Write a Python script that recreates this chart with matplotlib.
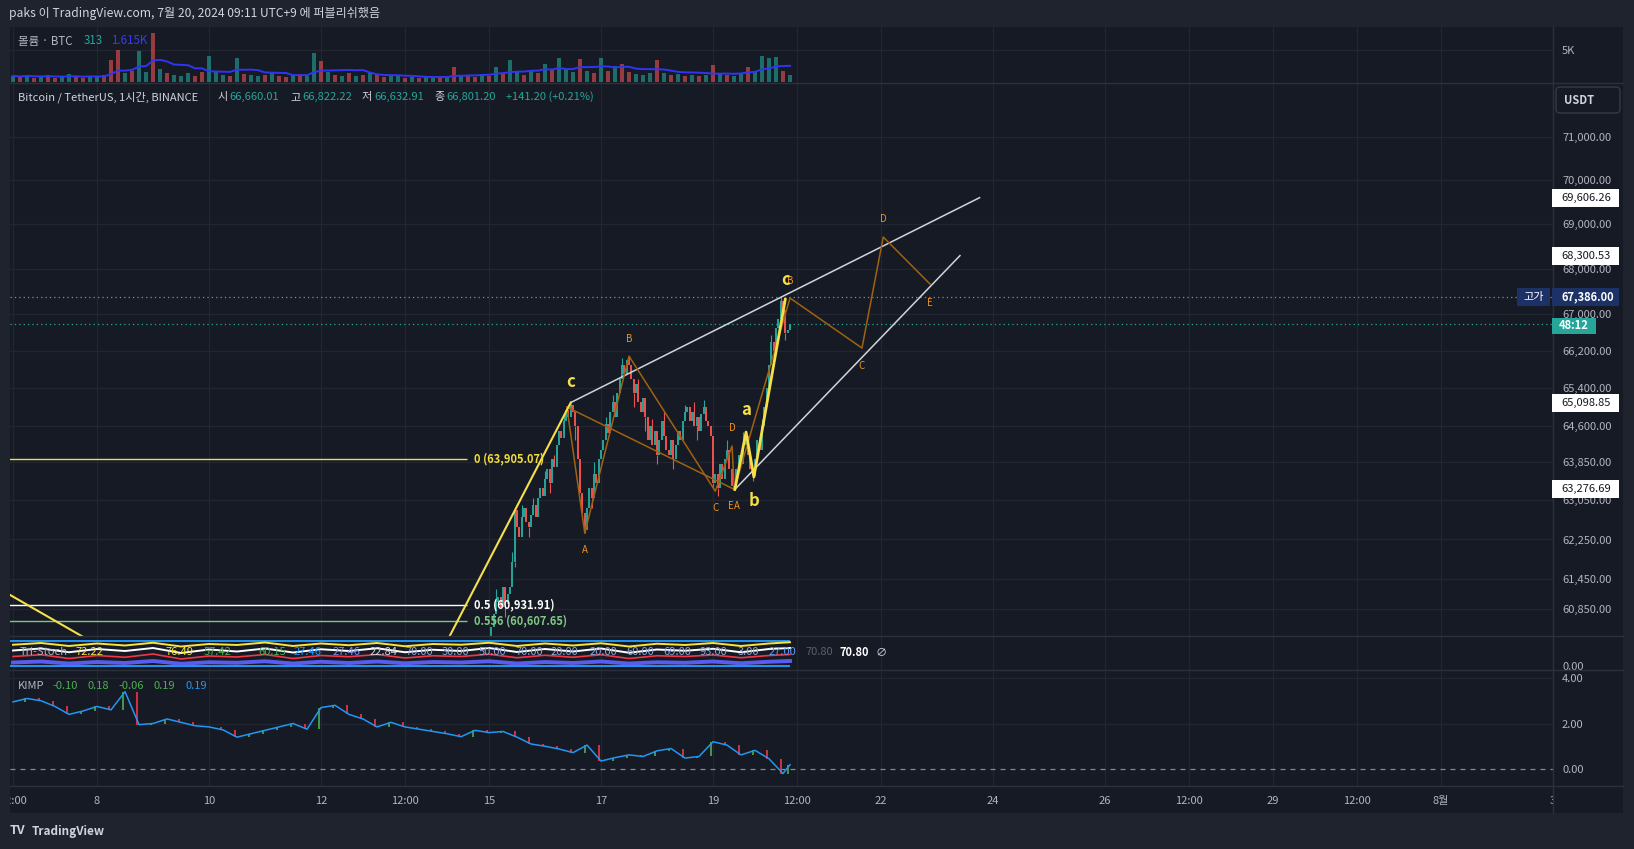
import matplotlib
matplotlib.use("Agg")
import matplotlib.pyplot as plt
import matplotlib.patches as mpatches
import matplotlib.lines as mlines
import matplotlib.transforms as mtransforms
from matplotlib.ticker import FixedLocator, NullLocator, NullFormatter
import numpy as np
import pandas as pd

plt.rcParams['font.family'] = ['Noto Sans CJK KR', 'DejaVu Sans']

# ---------------- data (x = day of July 2024, KST) ----------------
title = "paks 이 TradingView.com, 7월 20, 2024 09:11 UTC+9 에 퍼블리쉬했음"
symbol = "Bitcoin / TetherUS, 1시간, BINANCE"
ohlc_names = ["시", "고", "저", "종"]
ohlc_values = ["66,660.01", "66,822.22", "66,632.91", "66,801.20"]
change_text = "+141.20 (+0.21%)"

# hourly closes from Jul 15 00:00
candle_start = 15.0
first_open = 60100.0
closes = [60300, 60500, 60750, 61000, 61100, 60900,
          61300, 60950, 61150, 61300, 61800, 62850,
          62500, 62300, 62700,
          62900, 62600, 62500, 62750, 62950, 62700,
          63100, 63300, 63150, 63500,
          63700, 63400, 63900, 63750,
          64200, 64500, 64350, 64700,
          64950, 64800, 65050,
          64900, 64600, 63900, 63200, 62800, 62450,
          62900, 63300, 63100, 63600, 63400, 63900, 64100,
          64300, 64650, 64450, 64900, 65100, 64800, 65300,
          65600, 65900, 65700, 66000, 65900,
          65600, 65300, 65500, 65100, 64900, 65200,
          64800, 64300, 64600, 64200, 64500, 64000, 64300, 64700, 64400, 64100,
          64000, 64300, 63900, 64200, 64500, 64300, 64700, 64900,
          65000, 64700, 64900, 64600, 64800, 64500, 64850, 65000, 64700, 64600, 64400,
          63400,
          63600, 63300, 63800, 63500,
          63900, 64100, 63700, 63350,
          63300,
          63700, 64000, 63800, 64200, 64400,
          64000, 63700, 63550,
          63900, 64300, 64100, 64600,
          65000, 65400, 65900, 66400, 66200, 66700, 66900,
          67300, 67100, 66600, 66660.01, 66801.20]
wick_highs = {3: 61250, 10: 62000, 14: 62950, 19: 63100, 24: 63650, 28: 64000,
              32: 64850, 35: 65098.85, 45: 63850, 50: 64800, 53: 65250, 57: 66050,
              60: 66094, 64: 65600, 70: 64750, 75: 64900, 84: 65050, 88: 65100,
              92: 65150, 102: 64300, 109: 64473, 117: 64750, 121: 66550, 125: 67386}
wick_lows = {7: 60700, 11: 61700, 17: 62300, 26: 63200, 37: 64300, 41: 62378,
             44: 62900, 62: 65000, 67: 64500, 72: 63800, 79: 63700, 89: 64300,
             96: 63300, 98: 63150, 105: 63276.69, 113: 63450, 127: 66450}

# volume, 3-hour bins from Jul 6 12:00 (thousand BTC)
vol_start = 6.5
volumes = [1.0, 0.8, 1.2, 0.7, 0.9, 1.1, 0.6, 0.8, 1.3, 0.9,
           0.7, 1.0, 0.8, 1.2, 3.5, 5.0, 1.4, 1.8, 4.8, 1.6,
           7.7, 2.0, 1.5, 1.2, 1.0, 1.4, 0.9, 1.6, 4.0, 1.8,
           1.2, 1.0, 3.7, 1.3, 1.1, 0.9, 1.2, 1.5, 1.0, 0.8,
           1.1, 1.3, 1.0, 4.5, 3.3, 1.6, 1.2, 1.0, 1.4, 0.9,
           1.2, 1.5, 1.1, 0.8, 0.9, 1.0, 0.7, 0.8, 0.6, 0.9,
           0.7, 1.0, 0.8, 2.4, 0.9, 1.1, 0.8, 1.3, 1.0, 2.4,
           1.5, 3.5, 1.6, 1.2, 1.8, 1.4, 2.8, 1.9, 3.7, 2.0,
           1.6, 3.6, 1.8, 1.5, 3.7, 1.7, 2.5, 2.8, 1.6, 1.3,
           1.2, 1.5, 3.5, 1.4, 1.1, 1.3, 1.0, 1.2, 0.9, 1.1,
           2.7, 1.4, 1.2, 1.0, 1.5, 2.3, 1.8, 4.1, 3.8, 3.9, 1.8, 1.2]
vol_dirs = ("udududduud" "duuddduduu" "duduuuddu" "u" "ududuududd" "uduudududu"
            "dudduududu" "udududdudu" "duudududuu" "ududududdu" "uududududu"
            "duduuduuuudu")

# KIMP, 6-hour samples from Jul 6 12:00, plus last bar
kimp_start = 6.5
kimp = [2.95, 3.1, 3.0, 2.75, 2.4, 2.55,
        2.75, 2.6, 3.4, 1.95, 2.0, 2.2, 2.05, 1.9,
        1.85, 1.72, 1.4, 1.55, 1.7, 1.85, 2.0, 1.75,
        2.7, 2.8, 2.4, 2.2, 1.85, 2.05, 1.85, 1.75,
        1.65, 1.55, 1.42, 1.7, 1.6, 1.65, 1.4, 1.1,
        1.0, 0.88, 0.72, 1.05, 0.35, 0.5, 0.62, 0.55,
        0.8, 0.9, 0.48, 0.55, 1.2, 1.05, 0.62, 0.82,
        0.45, -0.2]
kimp_last = 0.19
kimp_legend = [("-0.10", "#4caf50"), ("0.18", "#4caf50"), ("-0.06", "#4caf50"),
               ("0.19", "#4caf50"), ("0.19", "#2196f3")]

# Tri-Stoch, 12-hour samples from Jul 6 12:00, plus last bar
stoch_yellow = [85, 92, 80, 90, 82, 93, 78, 88, 84, 94, 80, 90, 83, 92, 79,
                88, 85, 93, 80, 90, 82, 91, 78, 89, 84, 92, 80, 90, 95]
stoch_white = [62, 70, 55, 68, 60, 72, 52, 66, 58, 70, 54, 67, 60, 71, 55,
               65, 60, 72, 56, 68, 58, 70, 53, 66, 61, 69, 55, 68, 72]
stoch_red = [38, 45, 30, 42, 35, 48, 28, 40, 36, 46, 30, 42, 37, 46, 32,
             41, 38, 47, 33, 43, 35, 45, 30, 41, 38, 44, 33, 42, 46]
stoch_blue = [14, 18, 10, 16, 12, 20, 9, 15, 13, 19, 10, 17, 12, 18, 11,
              16, 14, 19, 10, 16, 12, 18, 10, 15, 13, 18, 11, 17, 20]
stoch_legend = [("72.22", "#f7e53b"), ("76.49", "#f7e53b"), ("57.42", "#4caf50"),
                ("60.15", "#4caf50"), ("27.46", "#2196f3"), ("27.46", "#7e8cf0"),
                ("22.84", "#d1d4dc"), ("70.00", "#8fa8d8"), ("30.00", "#8fa8d8"),
                ("50.00", "#8fa8d8"), ("70.00", "#8fa8d8"), ("20.00", "#8fa8d8"),
                ("20.00", "#8fa8d8"), ("60.00", "#8fa8d8"), ("69.00", "#8fa8d8"),
                ("93.00", "#8fa8d8"), ("3.00", "#8fa8d8"), ("27.00", "#5b9cf6")]

# drawings
fib_levels = [("0", 63905.07, "#f2dd3c"), ("0.5", 60931.91, "#ffffff"), ("0.556", 60607.65, "#81c784")]
fib_span = (5.0, 14.61)
wave_days = [4.0, 12.79, 16.46]
wave_px = [62724, 57190, 65098.85]
abc_days = [19.39, 19.59, 19.73, 20.29]
abc_px = [63276.69, 64473, 63534, 67330]
tri1_days = [16.39, 16.71, 17.5, 19.04, 19.34, 19.38]
tri1_px = [65003, 62378, 66094, 63241, 64180, 63276.69]
tri2_days = [19.38, 20.375, 21.66, 22.04, 22.875]
tri2_px = [63276.69, 67360, 66268, 68717, 67669]
chan_up_days, chan_up_px = [16.46, 23.76], [65098.85, 69606.26]
chan_lo_days, chan_lo_px = [19.39, 23.41], [63276.69, 68300.53]
high_price = 67386.00
last_price = 66801.20

price_ticks = [71000, 70000, 69000, 68000, 67000, 66200, 65400, 64600,
               63850, 63050, 62250, 61450, 60850]
time_ticks = [6.5, 8, 10, 12, 13.5, 15, 17, 19, 20.5, 22, 24, 26, 27.5, 29, 30.5, 32, 34]
time_labels = ["12:00", "8", "10", "12", "12:00", "15", "17", "19", "12:00",
               "22", "24", "26", "12:00", "29", "12:00", "8월", "3"]

# ---------------- figure ----------------
W, H = 1634, 849
BG = '#161a25'
OUTER = '#1f232e'
GRID = '#222631'
SEP = '#2c303b'
TXT = '#b2b5be'
UP = '#26a69a'
DN = '#ef5350'
ORANGE_LINE = '#a0620f'
ORANGE_TXT = '#f0921e'
YELLOW = '#f5e04a'
ID = mtransforms.IdentityTransform()

fig = plt.figure(figsize=(W / 100, H / 100), dpi=100)
fig.patch.set_facecolor(OUTER)


def rect(x0, y0, x1, y1):
    return [x0 / W, 1 - y1 / H, (x1 - x0) / W, (y1 - y0) / H]


def ftext(x, y, s, **kw):
    kw.setdefault('va', 'center')
    kw.setdefault('fontsize', 8)
    kw.setdefault('color', TXT)
    return fig.text(x / W, 1 - y / H, s, **kw)


def pbox(x0, y0, x1, y1, fc, ec='none', z=5, round_=False):
    if round_:
        p = mpatches.FancyBboxPatch((x0, H - y1), x1 - x0, y1 - y0,
                                    boxstyle='round,pad=0,rounding_size=4',
                                    fc=fc, ec=ec, lw=1, transform=ID, zorder=z)
    else:
        p = mpatches.Rectangle((x0, H - y1), x1 - x0, y1 - y0,
                               fc=fc, ec=ec, lw=1, transform=ID, zorder=z)
    fig.add_artist(p)


def pline(x0, y0, x1, y1, color=SEP, lw=1.0):
    fig.add_artist(mlines.Line2D([x0, x1], [H - y0, H - y1], color=color,
                                 lw=lw, transform=ID, zorder=4))


pbox(10, 27, 1623, 813, BG, z=-1)

L, R = 10, 1553
ax_v = fig.add_axes(rect(L, 27, R, 83))
ax_p = fig.add_axes(rect(L, 83, R, 636))
ax_s = fig.add_axes(rect(L, 636, R, 670))
ax_k = fig.add_axes(rect(L, 670, R, 786))
ax_t = fig.add_axes(rect(L, 786, R, 813))
panes = [ax_v, ax_p, ax_s, ax_k]
for ax in panes + [ax_t]:
    ax.set_facecolor(BG)
    ax.set_xlim(6.446, 34.0)
    for sp in ax.spines.values():
        sp.set_visible(False)
    ax.tick_params(axis='x', length=0, labelbottom=False)
    ax.yaxis.tick_right()
    ax.tick_params(axis='y', length=0, pad=6.5, colors=TXT, labelsize=8)
for ax in panes:
    for t in time_ticks:
        ax.axvline(t, color=GRID, lw=0.9, zorder=0)
ax_t.set_yticks([])
ax_t.set_ylim(0, 1)

# ---- volume pane ----
vt = vol_start + np.arange(len(volumes)) * 0.125
vcols = [UP if c == 'u' else DN for c in vol_dirs]
ax_v.bar(vt, volumes, width=0.07, color=vcols, alpha=0.6, zorder=2)
vol_ma = pd.Series(volumes).rolling(8, min_periods=1).mean()
ax_v.plot(vt, vol_ma, color='#3034f5', lw=1.4, zorder=3)
ax_v.set_ylim(-0.11, 8.56)
ax_v.set_yticks([5])
ax_v.set_yticklabels(["5K"])
ax_v.axhline(5, color=GRID, lw=0.9, zorder=0)

# ---- price pane ----
ax_p.set_yscale('log')
ax_p.set_ylim(60317, 72264)
ax_p.yaxis.set_major_locator(FixedLocator(price_ticks))
ax_p.yaxis.set_minor_locator(NullLocator())
ax_p.yaxis.set_minor_formatter(NullFormatter())
ax_p.set_yticklabels([f"{v:,.2f}" for v in price_ticks])
ax_p.tick_params(axis='y', length=0, pad=6.5, colors=TXT, labelsize=8)
for v in price_ticks:
    ax_p.axhline(v, color=GRID, lw=0.9, zorder=0)

hours = candle_start + np.arange(len(closes)) / 24
opens = np.array([first_open] + closes[:-1])
cl = np.array(closes)
ccols = [UP if c >= o else DN for o, c in zip(opens, cl)]
lo_body = np.minimum(opens, cl)
hi_body = np.maximum(opens, cl)
ax_p.vlines(hours, lo_body, hi_body, colors=ccols, lw=1.4, zorder=3)
for i, hv in wick_highs.items():
    ax_p.vlines(hours[i], hi_body[i], hv, colors=ccols[i], lw=0.8, zorder=3)
for i, lv in wick_lows.items():
    ax_p.vlines(hours[i], lv, lo_body[i], colors=ccols[i], lw=0.8, zorder=3)

ax_p.axhline(high_price, color='#8a8d96', ls=(0, (1, 2.5)), lw=0.9, zorder=2)
ax_p.axhline(last_price, color=UP, ls=(0, (1, 2.5)), lw=0.9, zorder=2)

for name, lvl, col in fib_levels:
    ax_p.hlines(lvl, fib_span[0], fib_span[1], color=col, lw=1.0, zorder=4)
    ax_p.annotate(f"{name} ({lvl:,.2f})", (fib_span[1], lvl), xytext=(5, 0),
                  textcoords='offset points', color=col, fontsize=8,
                  fontweight='bold', va='center', ha='left', zorder=6)

ax_p.plot(wave_days, wave_px, color=YELLOW, lw=1.5, zorder=5)
ax_p.plot(abc_days, abc_px, color=YELLOW, lw=2.0, zorder=5)
ax_p.plot(chan_up_days, chan_up_px, color='#d1d4dc', lw=1.1, zorder=4)
ax_p.plot(chan_lo_days, chan_lo_px, color='#d1d4dc', lw=1.1, zorder=4)
ax_p.plot(tri1_days, tri1_px, color=ORANGE_LINE, lw=1.1, zorder=4)
ax_p.plot([tri1_days[0], tri1_days[-1]], [tri1_px[0], tri1_px[-1]],
          color=ORANGE_LINE, lw=1.1, zorder=4)
ax_p.plot(tri2_days, tri2_px, color=ORANGE_LINE, lw=1.1, zorder=4)


def lab(x, y, s, dy, color, size, weight='normal', dx=0):
    ax_p.annotate(s, (x, y), xytext=(dx, dy), textcoords='offset points',
                  ha='center', va='center', color=color, fontsize=size,
                  fontweight=weight, zorder=7)


for (x, y), s, dy in zip(zip(tri1_days[1:5], tri1_px[1:5]), "ABCD", [-12, 12, -12, 13]):
    lab(x, y, s, dy, ORANGE_TXT, 7)
lab(tri1_days[5], tri1_px[5], "E", -12, ORANGE_TXT, 7, dx=-2.5)
lab(tri2_days[0], tri2_px[0], "A", -12, ORANGE_TXT, 7, dx=2)
for (x, y), s, dy in zip(zip(tri2_days[1:], tri2_px[1:]), "BCDE", [12, -13, 13, -14]):
    lab(x, y, s, dy, ORANGE_TXT, 7)
lab(wave_days[2], wave_px[2], "c", 15, YELLOW, 12, 'bold')
for x, y, s, dy in zip(abc_days[1:], abc_px[1:], "abc", [16, -17, 14]):
    lab(x, y, s, dy, YELLOW, 12, 'bold')

# ---- Tri-Stoch pane ----
st = np.append(6.5 + 0.5 * np.arange(len(stoch_yellow) - 1), 20.375)
ax_s.set_ylim(-16, 120)
ax_s.hlines([100, 0], 6.0, 20.375, color='#2196f3', lw=1.4, zorder=2)
ax_s.plot(st, stoch_blue, color='#5a5cf0', lw=2.8, zorder=3)
ax_s.plot(st, stoch_red, color='#f23645', lw=1.2, zorder=3)
ax_s.plot(st, stoch_white, color='#ffffff', lw=1.4, zorder=3)
ax_s.plot(st, stoch_yellow, color='#f7e53b', lw=1.4, zorder=3)
ax_s.set_yticks([0])
ax_s.set_yticklabels(["0.00"])

# ---- KIMP pane ----
kt = np.append(kimp_start + 0.25 * np.arange(len(kimp)), 20.375)
kv = np.append(kimp, kimp_last)
ax_k.set_ylim(-0.747, 4.352)
for v in [2, 4]:
    ax_k.axhline(v, color=GRID, lw=0.9, zorder=0)
ax_k.axhline(0, color='#868993', ls=(0, (4, 4)), lw=0.9, zorder=1)
kcols = ['#4caf50' if b >= a else '#f23645' for a, b in zip(kv[:-1], kv[1:])]
ax_k.vlines(kt[1:] - 0.04, kv[:-1], kv[1:], colors=kcols, lw=1.2, zorder=2)
ax_k.plot(kt, kv, color='#2196f3', lw=1.1, zorder=3)
ax_k.set_yticks([0, 2, 4])
ax_k.set_yticklabels(["0.00", "2.00", "4.00"])

# ---- time axis ----
for t, s in zip(time_ticks, time_labels):
    ax_t.text(t, 0.45, s, ha='center', va='center', color=TXT, fontsize=8, clip_on=True)

# ---- separators ----
for y in [83, 636, 670, 786]:
    pline(10, y, 1623, y)
pline(1553, 27, 1553, 813)

# ---- axis tags ----
fig.canvas.draw()


def price_y(p):
    return H - ax_p.transData.transform((20.0, p))[1]


for p in [chan_up_px[1], chan_lo_px[1], wave_px[2], chan_lo_px[0]]:
    y = price_y(p)
    pbox(1552, y - 9, 1619, y + 9, '#ffffff')
    ftext(1561, y, f"{p:,.2f}", color='#131722', zorder=6)
yh = price_y(high_price)
pbox(1517, yh - 9, 1550, yh + 9, '#1c3166')
ftext(1533.5, yh, "고가", color='#ffffff', ha='center', zorder=6)
pbox(1552, yh - 9, 1619, yh + 9, '#1c3166')
ftext(1561, yh, f"{high_price:,.2f}", color='#ffffff', fontweight='bold', zorder=6)
yl = price_y(last_price) + 2
pbox(1552, yl - 8, 1596, yl + 8, UP)
ftext(1574, yl, "48:12", color='#ffffff', ha='center', fontweight='bold', zorder=6)
pbox(1556, 87, 1620, 113, BG, ec='#363a45', round_=True)
ftext(1564, 100, "USDT", color='#d1d4dc', fontweight='bold', zorder=6)

# ---- legends / header ----
ftext(9, 14, title, color='#d1d4dc', fontsize=8.7)
ftext(18, 41, "볼륨 · BTC", fontsize=8.3)
ftext(84, 41, "313", color=UP, fontsize=8.3)
ftext(111, 41, "1.615K", color='#3a3af5', fontsize=8.3)

ftext(18, 97, symbol, color='#d1d4dc', fontsize=8)
for x, n, v in zip([217, 290, 362, 434], ohlc_names, ohlc_values):
    ftext(x, 97, n, color='#d1d4dc', fontsize=8)
    ftext(x + 12, 97, v, color=UP, fontsize=8)
ftext(506, 97, change_text, color=UP, fontsize=8)

ftext(20, 652, "Tri-Stoch", fontsize=8, zorder=2)
sx = [75, 165, 204, 258, 294, 333, 370, 405, 442, 479, 515, 551, 590, 626, 663, 700, 738, 769]
for x, (s, c) in zip(sx, stoch_legend):
    ftext(x, 652, s, color=c, fontsize=8, zorder=2)
ftext(805, 652, "70.80", color='#5d606b', fontsize=8)
ftext(840, 652, "70.80", color='#ffffff', fontsize=8, fontweight='bold')
ftext(876, 652, "∅", color='#d1d4dc', fontsize=8)

ftext(18, 686, "KIMP", fontsize=8)
for x, (s, c) in zip([52, 87, 118, 153, 186], kimp_legend):
    ftext(x, 686, s, color=c, fontsize=8)

ftext(10, 831, "TV", color='#d1d4dc', fontsize=9, fontweight='heavy')
ftext(32, 831, "TradingView", color='#d1d4dc', fontsize=8.5, fontweight='bold')

fig.savefig("out.png", dpi=100, facecolor=OUTER)
